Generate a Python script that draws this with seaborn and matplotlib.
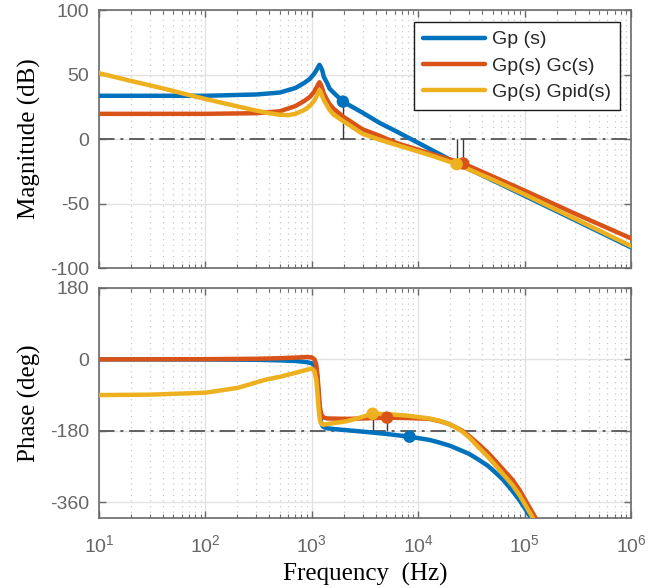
import numpy as np
import pandas as pd
import matplotlib
matplotlib.use("Agg")
import matplotlib.pyplot as plt
import seaborn as sns
from matplotlib.lines import Line2D
from matplotlib.ticker import LogLocator, LogFormatterSciNotation, NullFormatter, FixedLocator

# ---------------- data ----------------
series_names = ["Gp (s)", "Gp(s) Gc(s)", "Gp(s) Gpid(s)"]
series_colors = ["#0072BD", "#D95319", "#EDB120"]

# Magnitude (dB)
gp_mag_freq = [10, 100, 300, 500, 700, 850, 955, 1050, 1100, 1150, 1180, 1210, 1250, 1300,
               1400, 1470, 1600, 1960, 3000, 4330, 6200, 10000, 24000, 50000, 100000, 300000, 1000000]
gp_mag_db = [33.5, 33.5, 34.5, 36, 39.5, 43.5, 46.5, 50.5, 53, 56, 57.5, 56, 53.5, 48,
             43, 39, 36, 29, 20.4, 12.5, 6, -3, -19.5, -32, -44, -63, -84]

gc_mag_freq = [10, 100, 300, 500, 700, 850, 955, 1050, 1100, 1150, 1180, 1210, 1250, 1300,
               1400, 1470, 1600, 1960, 3000, 4330, 6200, 12700, 26500, 50000, 100000, 300000, 1000000]
gc_mag_db = [19.5, 19.5, 20, 21.5, 25.5, 29.5, 32.5, 36.5, 39.5, 42.5, 44, 42.5, 39.5, 35,
             30, 27, 23.5, 17.5, 7.5, 2.5, -3, -11, -19, -29, -40, -58, -77]

pid_mag_freq = [10, 20, 40, 71, 100, 200, 300, 400, 500, 600, 700, 850, 955, 1050, 1100, 1150,
                1180, 1210, 1250, 1300, 1400, 1470, 1600, 1960, 3000, 4330, 6200, 12700, 23000,
                50000, 100000, 300000, 1000000]
pid_mag_db = [51, 45, 39.2, 34, 31, 25.3, 22, 20, 18.8, 18.5, 19.5, 22.5, 25.5, 29.5, 32.5, 36,
              38, 36.5, 33.5, 30, 25.5, 22.5, 19, 14, 4, -0.5, -4.5, -12.3, -19.5,
              -31.5, -43, -62, -83]

# Phase (deg)
gp_ph_freq = [10, 100, 300, 500, 700, 900, 1000, 1060, 1100, 1130, 1160, 1190, 1220, 1260, 1300,
              1400, 2000, 3240, 5000, 8300, 12700, 15000, 20000, 26000, 30000, 37000, 45000,
              53600, 63000, 77000, 90000, 102000, 110000, 120000, 130000]
gp_ph_deg = [0, -0.3, -1, -2.5, -4, -7, -10, -16, -25, -50, -95, -135, -158, -168, -171,
             -174, -178, -183, -188, -195, -203, -208, -218, -231, -238, -253, -268,
             -286, -304, -332, -356, -378, -392, -408, -425]

gc_ph_freq = [10, 100, 300, 500, 700, 900, 1000, 1060, 1100, 1130, 1160, 1190, 1220, 1260, 1300,
              1400, 2130, 3000, 5100, 8000, 12700, 16000, 19500, 22000, 26000, 31000, 37000,
              45000, 53600, 63000, 77000, 90000, 102000, 115000, 130000, 140000]
gc_ph_deg = [0, 0.5, 1.5, 3, 4.5, 6, 5, 0, -12, -38, -80, -118, -136, -144, -147,
             -149, -150, -149, -147, -148, -150, -156, -163, -170, -180, -196, -214,
             -235, -257, -278, -304, -330, -356, -380, -405, -425]

pid_ph_freq = [10, 30, 100, 200, 370, 500, 700, 900, 1000, 1060, 1100, 1130, 1160, 1190, 1220,
               1280, 1400, 2130, 3000, 3730, 5000, 8000, 12700, 16000, 19500, 22000, 26000,
               31000, 37000, 45000, 53600, 63000, 77000, 90000, 102000, 115000, 125000, 135000]
pid_ph_deg = [-90, -89, -84, -72, -51, -44, -34, -26, -23, -30, -50, -85, -125, -152, -162,
              -165, -163, -156, -145, -137, -138, -142, -149, -155, -163, -170, -182,
              -200, -222, -245, -268, -290, -317, -343, -368, -392, -410, -428]

# Stability-margin markers (Gp, Gp·Gc, Gp·Gpid)
mag_margin_freq = [1960, 26500, 23000]
mag_margin_db = [29, -19, -19.5]
ph_margin_freq = [8300, 5100, 3730]
ph_margin_deg = [-195, -147, -137]

crossover_db = 0
crossover_deg = -180

mag_ticks = [-100, -50, 0, 50, 100]
ph_ticks = [-360, -180, 0, 180]

# ---------------- tables ----------------
def frame(freqs, vals, names):
    parts = [pd.DataFrame({"freq": f, "value": v, "series": n}) for f, v, n in zip(freqs, vals, names)]
    return pd.concat(parts, ignore_index=True)

df_mag = frame([gp_mag_freq, gc_mag_freq, pid_mag_freq], [gp_mag_db, gc_mag_db, pid_mag_db], series_names)
df_ph = frame([gp_ph_freq, gc_ph_freq, pid_ph_freq], [gp_ph_deg, gc_ph_deg, pid_ph_deg], series_names)
df_mm = pd.DataFrame({"freq": mag_margin_freq, "value": mag_margin_db, "series": series_names})
df_pm = pd.DataFrame({"freq": ph_margin_freq, "value": ph_margin_deg, "series": series_names})

# ---------------- style ----------------
sns.set_style("ticks")
plt.rcParams.update({
    "font.family": ["Liberation Sans", "DejaVu Sans"],
    "mathtext.fontset": "custom",
    "mathtext.rm": "Liberation Sans",
    "mathtext.it": "Liberation Sans:italic",
    "mathtext.bf": "Liberation Sans:bold",
    "axes.unicode_minus": False,
})

W, H = 657, 588
fig = plt.figure(figsize=(W / 100, H / 100), dpi=100)
ax1 = fig.add_axes([99 / W, 1 - 268 / H, 532 / W, 258 / H])
ax2 = fig.add_axes([99 / W, 1 - 518 / H, 532 / W, 230 / H])

spine_c = "#6a6a6a"
tick_c = "#666666"
lw = 3.2

for ax in (ax1, ax2):
    ax.set_xscale("log")
    ax.set_xlim(10, 1e6)
    ax.set_axisbelow(True)
    ax.grid(True, which="major", color="#e2e2e2", lw=1.0, ls="-")
    ax.xaxis.set_minor_locator(LogLocator(base=10, subs=np.arange(2, 10)))
    ax.xaxis.set_minor_formatter(NullFormatter())
    ax.grid(True, which="minor", axis="x", color="#c8c8c8", lw=0.9, ls=(0, (1, 3.5)))
    for s in ax.spines.values():
        s.set_color(spine_c)
        s.set_linewidth(1.2)
    ax.tick_params(which="both", direction="in", top=True, right=True, color=spine_c,
                   labelcolor=tick_c, labelsize=14)
    ax.tick_params(which="major", length=5, width=1)
    ax.tick_params(which="minor", length=3, width=0.8)
    ax.tick_params(axis="y", pad=7)
    ax.tick_params(axis="x", pad=12)

# ---- magnitude ----
ax1.axhline(crossover_db, color="#606060", lw=1.4, ls=(0, (8, 3, 1.5, 3)), zorder=2)
ax1.vlines(mag_margin_freq, mag_margin_db, crossover_db, color="#3a3a3a", lw=1.0, zorder=2)
sns.lineplot(data=df_mag, x="freq", y="value", hue="series", hue_order=series_names,
             palette=series_colors, linewidth=lw, estimator=None, legend=False, ax=ax1, zorder=3)
sns.scatterplot(data=df_mm, x="freq", y="value", hue="series", hue_order=series_names,
                palette=series_colors, s=80, linewidth=0, legend=False, ax=ax1, zorder=4)
ax1.set_ylim(-100, 100)
ax1.yaxis.set_major_locator(FixedLocator(mag_ticks))
ax1.set_xlabel("")
ax1.set_ylabel("")
ax1.tick_params(axis="x", labelbottom=False)

handles = [Line2D([0], [0], color=c, lw=lw) for c in series_colors]
leg = ax1.legend(handles, series_names, loc="upper right", bbox_to_anchor=(0.979, 0.953),
                 borderaxespad=0, frameon=True, fancybox=False, edgecolor="#1a1a1a",
                 framealpha=1, fontsize=14, handlelength=3.2, handletextpad=0.35,
                 labelspacing=0.45, borderpad=0.45)
leg.get_frame().set_linewidth(1.0)

# ---- phase ----
ax2.axhline(crossover_deg, color="#606060", lw=1.4, ls=(0, (8, 3, 1.5, 3)), zorder=2)
ax2.vlines(ph_margin_freq, ph_margin_deg, crossover_deg, color="#3a3a3a", lw=1.0, zorder=2)
sns.lineplot(data=df_ph, x="freq", y="value", hue="series", hue_order=series_names,
             palette=series_colors, linewidth=lw, estimator=None, legend=False, ax=ax2, zorder=3)
sns.scatterplot(data=df_pm, x="freq", y="value", hue="series", hue_order=series_names,
                palette=series_colors, s=80, linewidth=0, legend=False, ax=ax2, zorder=4)
ax2.set_ylim(-400, 180)
ax2.yaxis.set_major_locator(FixedLocator(ph_ticks))
ax2.xaxis.set_major_locator(LogLocator(base=10))
ax2.xaxis.set_major_formatter(LogFormatterSciNotation(base=10))
ax2.set_xlim(10, 1e6)
ax2.set_xlabel("")
ax2.set_ylabel("")

# ---- labels ----
serif = ["Liberation Serif", "DejaVu Serif"]
fig.text(29.5 / W, 1 - 139 / H, "Magnitude (dB)", rotation=90, ha="center", va="center",
         fontsize=18, family=serif, color="black")
fig.text(29.5 / W, 1 - 403 / H, "Phase (deg)", rotation=90, ha="center", va="center",
         fontsize=18, family=serif, color="black")
fig.text(365 / W, 1 - 581 / H, "Frequency  (Hz)", ha="center", va="baseline",
         fontsize=18, family=serif, color="black")

fig.savefig("out.png", dpi=100)
